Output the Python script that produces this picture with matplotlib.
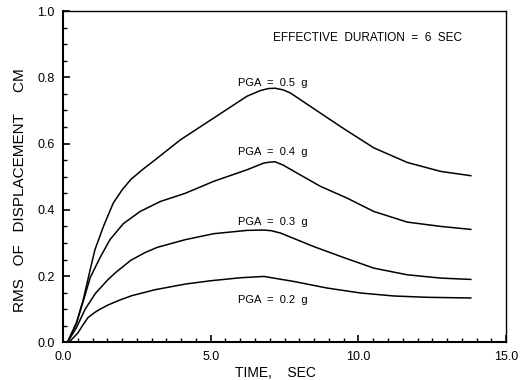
import matplotlib
matplotlib.use('Agg')
import matplotlib.pyplot as plt
from matplotlib.ticker import MultipleLocator

plt.rcParams['font.family'] = ['Liberation Sans', 'DejaVu Sans']

# RMS of displacement (cm) vs time (sec)
t_05 = [0.15, 0.46, 0.69, 0.92, 1.08, 1.37, 1.7, 2.0, 2.3, 2.7, 3.12, 3.97, 5.1, 6.23, 6.68, 6.95, 7.18, 7.45, 7.69, 8.71, 9.5, 10.52, 11.65, 12.78, 13.8]
v_05 = [0.0, 0.06, 0.13, 0.219, 0.279, 0.35, 0.42, 0.46, 0.492, 0.522, 0.551, 0.611, 0.677, 0.743, 0.76, 0.766, 0.767, 0.762, 0.753, 0.692, 0.645, 0.587, 0.543, 0.516, 0.503]

t_04 = [0.15, 0.46, 0.69, 0.92, 1.14, 1.25, 1.59, 2.04, 2.61, 3.29, 4.14, 5.1, 6.23, 6.79, 7.0, 7.18, 7.45, 7.92, 8.71, 9.6, 10.52, 11.65, 12.78, 13.8]
v_04 = [0.0, 0.058, 0.125, 0.195, 0.235, 0.255, 0.31, 0.358, 0.395, 0.425, 0.45, 0.486, 0.521, 0.541, 0.544, 0.545, 0.535, 0.511, 0.471, 0.436, 0.395, 0.363, 0.35, 0.341]

t_03 = [0.15, 0.46, 0.75, 1.1, 1.53, 1.8, 2.3, 2.8, 3.2, 4.14, 5.1, 6.23, 6.8, 7.05, 7.36, 8.49, 9.5, 10.52, 11.65, 12.78, 13.8]
v_03 = [0.0, 0.045, 0.1, 0.148, 0.19, 0.212, 0.248, 0.272, 0.287, 0.31, 0.328, 0.338, 0.339, 0.337, 0.33, 0.289, 0.256, 0.224, 0.204, 0.194, 0.19]

t_02 = [0.2, 0.5, 0.68, 0.85, 1.07, 1.25, 1.53, 1.93, 2.33, 3.12, 4.14, 5.0, 6.0, 6.8, 7.8, 8.94, 10.07, 11.2, 12.33, 13.8]
v_02 = [0.0, 0.028, 0.053, 0.075, 0.09, 0.1, 0.113, 0.128, 0.141, 0.159, 0.176, 0.186, 0.195, 0.199, 0.184, 0.164, 0.149, 0.14, 0.136, 0.134]

pga_labels = ['PGA  =  0.5  g', 'PGA  =  0.4  g', 'PGA  =  0.3  g', 'PGA  =  0.2  g']
label_y = [0.784, 0.575, 0.363, 0.128]

fig = plt.figure(figsize=(5.29, 3.8), dpi=100)
ax = fig.add_axes([0.119, 0.099, 0.838, 0.872])

for t, v in [(t_05, v_05), (t_04, v_04), (t_03, v_03), (t_02, v_02)]:
    ax.plot(t, v, color='black', lw=1.1)

for lab, y in zip(pga_labels, label_y):
    ax.text(5.93, y, lab, fontsize=8, ha='left', va='center')
ax.text(7.12, 0.92, 'EFFECTIVE  DURATION  =  6  SEC', fontsize=8.5, ha='left', va='center')

ax.set_xlim(0, 15)
ax.set_ylim(0, 1.0)
ax.xaxis.set_major_locator(MultipleLocator(5))
ax.xaxis.set_minor_locator(MultipleLocator(0.5))
ax.yaxis.set_major_locator(MultipleLocator(0.2))
ax.yaxis.set_minor_locator(MultipleLocator(0.05))
ax.xaxis.set_major_formatter(lambda x, p: f'{x:.1f}')
ax.yaxis.set_major_formatter(lambda x, p: f'{x:.1f}')
ax.tick_params(which='both', direction='in', labelsize=9, top=False, right=False)
ax.tick_params(which='major', length=5, width=1.2)
ax.tick_params(which='minor', length=3, width=1)
ax.tick_params(axis='x', pad=6)
ax.tick_params(axis='y', pad=6)
for s in ['left', 'bottom']:
    ax.spines[s].set_linewidth(1.5)
for s in ['top', 'right']:
    ax.spines[s].set_linewidth(1.0)

ax.set_xlabel('TIME,    SEC', fontsize=10)
ax.xaxis.set_label_coords(0.48, -0.07)
ax.set_ylabel('RMS   OF   DISPLACEMENT     CM', fontsize=11)
ax.yaxis.set_label_coords(-0.08, 0.46)

fig.savefig('out.png', dpi=100)
